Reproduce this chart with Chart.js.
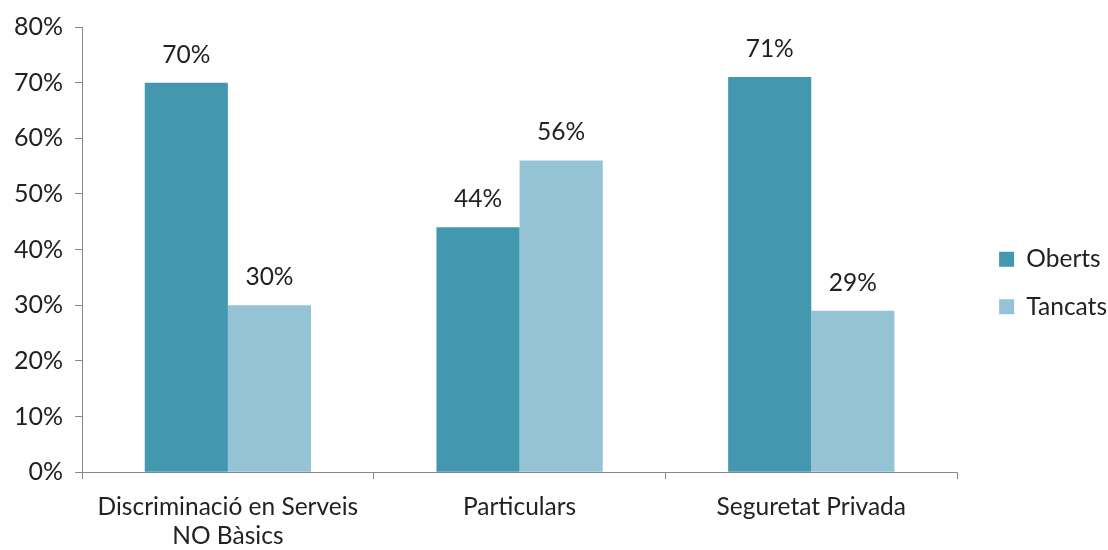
<!DOCTYPE html>
<html>
<head>
<meta charset="utf-8">
<script src="https://cdn.jsdelivr.net/npm/chart.js@4/dist/chart.umd.min.js"></script>
<style>
  html, body { margin: 0; padding: 0; background: #fff; }
  #wrap { width: 1108px; height: 550px; }
</style>
</head>
<body>
<div id="wrap"><canvas id="chart"></canvas></div>
<script>
// Dades del gràfic
const categories = [["Discriminació en Serveis", "NO Bàsics"], "Particulars", "Seguretat Privada"]
const oberts = [70, 44, 71]
const tancats = [30, 56, 29]
const colorOberts = "#4397ae"
const colorTancats = "#93c3d5"
const fontFamily = "Lato, 'Open Sans', sans-serif"

// Etiquetes de valor damunt de cada barra
const valueLabels = {
  id: "valueLabels",
  afterDatasetsDraw(chart) {
    const ctx = chart.ctx
    ctx.save()
    ctx.font = "24.5px " + fontFamily
    ctx.fillStyle = "#222"
    ctx.textAlign = "center"
    ctx.textBaseline = "middle"
    chart.data.datasets.forEach((ds, i) => {
      chart.getDatasetMeta(i).data.forEach((bar, j) => {
        ctx.fillText(ds.data[j] + "%", bar.x, bar.y - 28)
      })
    })
    ctx.restore()
  }
}

// Desplaça la llegenda cap a la dreta, deixant més espai després de l'àrea del gràfic
const legendShift = {
  id: "legendShift",
  afterLayout(chart) {
    chart.legend.left += 19
    chart.legend.right += 19
    chart.legend.top -= 2
    chart.legend.bottom -= 2
  }
}

new Chart(document.getElementById("chart"), {
  type: "bar",
  data: {
    labels: categories,
    datasets: [
      { label: "Oberts", data: oberts, backgroundColor: colorOberts },
      { label: "Tancats", data: tancats, backgroundColor: colorTancats }
    ]
  },
  options: {
    responsive: true,
    maintainAspectRatio: false,
    animation: false,
    datasets: { bar: { categoryPercentage: 0.57, barPercentage: 1.0 } },
    layout: { padding: { top: 6, right: 10, bottom: -14, left: 2 } },
    plugins: {
      legend: {
        position: "right",
        align: "center",
        labels: {
          font: { family: fontFamily, size: 24.5 },
          color: "#222",
          boxWidth: 15,
          boxHeight: 15,
          padding: 23
        }
      },
      tooltip: { enabled: false }
    },
    scales: {
      x: {
        grid: {
          offset: true,
          drawOnChartArea: false,
          drawTicks: true,
          tickLength: 7,
          color: "#888"
        },
        border: { color: "#888" },
        ticks: {
          font: { family: fontFamily, size: 24.5, lineHeight: 1.2 },
          color: "#222",
          maxRotation: 0,
          padding: 13
        }
      },
      y: {
        min: 0,
        max: 80,
        grid: {
          drawOnChartArea: false,
          drawTicks: true,
          tickLength: 7,
          color: "#888"
        },
        border: { color: "#888" },
        ticks: {
          stepSize: 10,
          font: { family: fontFamily, size: 25 },
          color: "#222",
          padding: 12,
          callback: v => v + "%"
        }
      }
    }
  },
  plugins: [valueLabels, legendShift]
})
</script>
</body>
</html>
